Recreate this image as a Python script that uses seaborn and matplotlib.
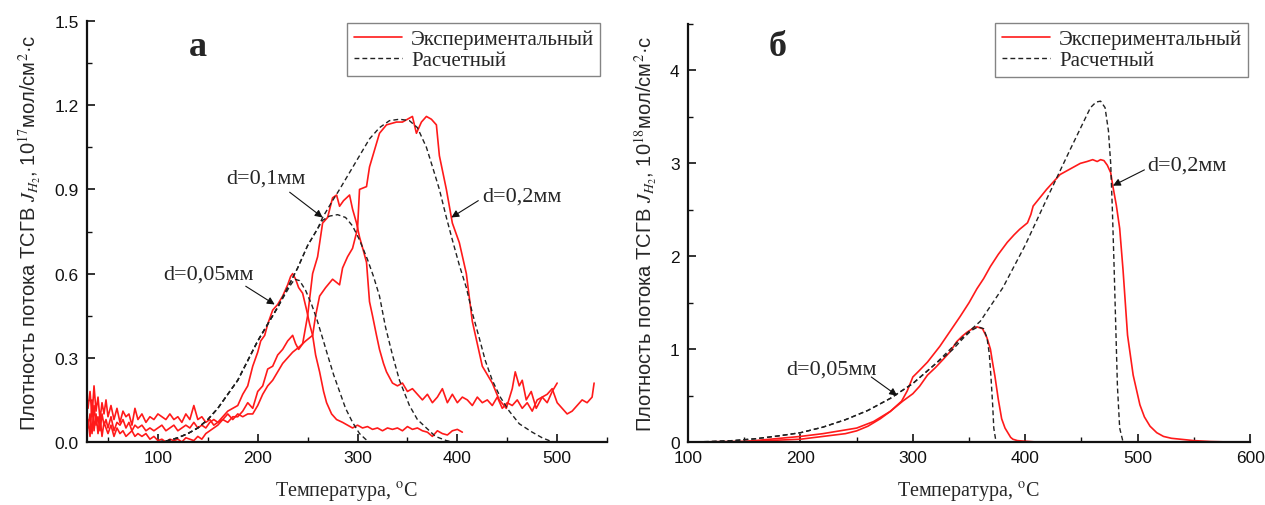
import numpy as np
import pandas as pd
import matplotlib
matplotlib.use("Agg")
import matplotlib.pyplot as plt
import seaborn as sns
from matplotlib.ticker import MultipleLocator
from matplotlib.lines import Line2D

# ---------------- data: panel a (10^17) ----------------
a_low_x = [30, 32, 34, 36, 38, 40, 42, 44, 46, 48, 50, 53, 56, 59, 62, 65, 68, 71, 74, 77,
           80, 84, 88, 92, 96, 100, 104, 108, 112, 116, 120, 124, 128, 132, 136, 140, 144,
           148, 152, 156, 160, 165, 170, 175, 180]

a_exp05_low = [0.12, 0.18, 0.09, 0.20, 0.11, 0.16, 0.08, 0.14, 0.10, 0.15, 0.09, 0.13, 0.08,
               0.12, 0.07, 0.11, 0.09, 0.10, 0.06, 0.12, 0.08, 0.10, 0.07, 0.09, 0.08, 0.10,
               0.09, 0.08, 0.10, 0.08, 0.09, 0.07, 0.10, 0.08, 0.13, 0.08, 0.09, 0.07, 0.08,
               0.06, 0.07, 0.09, 0.11, 0.12, 0.13]
a_exp05_hi_x = [185, 190, 195, 200, 203, 207, 210, 215, 220, 225, 230, 233, 235, 238, 241, 245,
                249, 252, 255, 258, 262, 266, 269, 274, 279, 285, 290, 295, 300, 305, 310, 315,
                320, 325, 330, 335, 340, 345, 350, 355, 360, 365, 370, 375, 380, 385, 390, 395,
                400, 405]
a_exp05_hi = [0.17, 0.20, 0.27, 0.32, 0.36, 0.38, 0.42, 0.47, 0.49, 0.52, 0.56, 0.59, 0.60, 0.58,
              0.55, 0.53, 0.47, 0.42, 0.38, 0.31, 0.25, 0.18, 0.14, 0.10, 0.08, 0.07, 0.06, 0.05,
              0.06, 0.05, 0.055, 0.045, 0.05, 0.04, 0.05, 0.045, 0.05, 0.04, 0.055, 0.045, 0.05,
              0.04, 0.035, 0.02, 0.04, 0.03, 0.025, 0.04, 0.045, 0.035]

a_exp10_low = [0.05, 0.10, 0.03, 0.13, 0.06, 0.09, 0.04, 0.10, 0.06, 0.08, 0.05, 0.09, 0.04,
               0.07, 0.06, 0.08, 0.05, 0.07, 0.04, 0.06, 0.05, 0.06, 0.04, 0.05, 0.04, 0.05,
               0.06, 0.04, 0.05, 0.06, 0.04, 0.05, 0.06, 0.05, 0.07, 0.05, 0.06, 0.05, 0.07,
               0.08, 0.07, 0.08, 0.07, 0.09, 0.09]
a_exp10_hi_x = [185, 190, 195, 200, 205, 210, 215, 220, 225, 230, 235, 238, 241, 245, 250, 255,
                260, 265, 270, 275, 279, 282, 286, 292, 295, 299, 302, 306, 309, 312, 315, 319,
                322, 326, 329, 335, 340, 345, 350, 355, 360, 365, 370, 375, 380, 385, 390, 395,
                400, 405, 410, 415, 420, 425, 430, 435, 440, 445, 450, 455, 460, 465, 470, 475,
                480, 485, 490, 495, 500]
a_exp10_hi = [0.11, 0.14, 0.12, 0.18, 0.20, 0.26, 0.27, 0.31, 0.33, 0.36, 0.38, 0.35, 0.33, 0.35,
              0.45, 0.60, 0.66, 0.78, 0.80, 0.87, 0.88, 0.84, 0.86, 0.88, 0.83, 0.78, 0.73, 0.68,
              0.64, 0.50, 0.45, 0.38, 0.33, 0.28, 0.25, 0.21, 0.20, 0.21, 0.18, 0.19, 0.17, 0.15,
              0.17, 0.14, 0.16, 0.19, 0.14, 0.17, 0.14, 0.16, 0.15, 0.13, 0.16, 0.14, 0.15, 0.13,
              0.16, 0.12, 0.14, 0.13, 0.15, 0.12, 0.14, 0.11, 0.15, 0.16, 0.14, 0.18, 0.21]

a_exp20_low = [0.08, 0.02, 0.15, 0.04, 0.10, 0.03, 0.09, 0.02, 0.07, 0.05, 0.03, 0.06, 0.02,
               0.05, 0.03, 0.04, 0.02, 0.03, 0.04, 0.02, 0.03, 0.02, 0.03, 0.01, 0.02, 0.005,
               0.01, 0.0, 0.01, 0.005, 0.01, 0.0, 0.015, 0.01, 0.005, 0.02, 0.01, 0.03, 0.04,
               0.05, 0.06, 0.08, 0.10, 0.08, 0.10]
a_exp20_hi_x = [185, 190, 195, 200, 205, 210, 215, 220, 225, 230, 235, 242, 248, 255, 258, 262,
                268, 275, 282, 285, 290, 295, 300, 302, 309, 312, 317, 322, 329, 339, 345, 350,
                355, 359, 364, 369, 374, 379, 382, 389, 395, 402, 409, 415, 420, 425, 430, 435,
                442, 449, 455, 458, 462, 465, 469, 474, 479, 485, 490, 495, 500, 505, 510, 515,
                520, 525, 530, 535, 537]
a_exp20_hi = [0.09, 0.10, 0.10, 0.13, 0.17, 0.20, 0.22, 0.25, 0.28, 0.30, 0.32, 0.34, 0.36, 0.38,
              0.45, 0.52, 0.55, 0.58, 0.56, 0.62, 0.66, 0.69, 0.76, 0.90, 0.91, 0.98, 1.04, 1.10,
              1.13, 1.14, 1.14, 1.15, 1.16, 1.10, 1.14, 1.16, 1.15, 1.13, 1.02, 0.90, 0.78, 0.71,
              0.60, 0.43, 0.35, 0.27, 0.24, 0.21, 0.15, 0.12, 0.19, 0.25, 0.20, 0.22, 0.15, 0.18,
              0.12, 0.16, 0.17, 0.19, 0.14, 0.12, 0.10, 0.11, 0.13, 0.15, 0.14, 0.16, 0.21]

a_calc05_x = [100, 110, 120, 130, 140, 150, 160, 170, 180, 190, 200, 210, 220, 228, 233, 237,
              242, 248, 254, 259, 265, 270, 276, 282, 288, 295, 302, 308, 312]
a_calc05 = [0.0, 0.005, 0.015, 0.03, 0.05, 0.08, 0.12, 0.17, 0.22, 0.29, 0.36, 0.42, 0.48, 0.53,
            0.56, 0.58, 0.575, 0.54, 0.49, 0.44, 0.37, 0.31, 0.24, 0.18, 0.12, 0.07, 0.03, 0.01, 0.0]
a_calc10_x = [100, 110, 120, 130, 140, 150, 160, 170, 180, 190, 200, 210, 220, 230, 240, 250,
              260, 265, 272, 280, 288, 295, 302, 310, 316, 322, 328, 335, 342, 352, 360, 369,
              378, 389, 395]
a_calc10 = [0.0, 0.005, 0.015, 0.03, 0.05, 0.08, 0.12, 0.17, 0.22, 0.29, 0.36, 0.42, 0.48, 0.55,
            0.62, 0.70, 0.76, 0.79, 0.805, 0.81, 0.80, 0.77, 0.72, 0.65, 0.59, 0.52, 0.41, 0.31,
            0.22, 0.13, 0.08, 0.05, 0.02, 0.005, 0.0]
a_calc20_x = [100, 110, 120, 130, 140, 150, 160, 170, 180, 190, 200, 210, 220, 230, 240, 250,
              260, 265, 275, 282, 292, 302, 312, 322, 332, 342, 352, 360, 369, 376, 382, 389,
              395, 402, 409, 415, 422, 428, 435, 443, 452, 462, 475, 485, 492, 497]
a_calc20 = [0.0, 0.005, 0.015, 0.03, 0.05, 0.08, 0.12, 0.17, 0.22, 0.29, 0.36, 0.42, 0.48, 0.55,
            0.62, 0.70, 0.76, 0.80, 0.86, 0.90, 0.96, 1.02, 1.08, 1.12, 1.145, 1.15, 1.145, 1.12,
            1.05, 0.97, 0.90, 0.80, 0.72, 0.63, 0.55, 0.46, 0.37, 0.29, 0.22, 0.16, 0.11, 0.065,
            0.035, 0.015, 0.005, 0.0]

# ---------------- data: panel б (10^18) ----------------
b_exp05_x = [100, 150, 200, 220, 240, 250, 260, 271, 280, 291, 300, 306, 313, 320, 327, 333, 339,
             344, 348, 353, 357, 362, 366, 369, 371, 373, 376, 379, 382, 384, 387, 389, 393, 398,
             410, 450]
b_exp05 = [0.0, 0.005, 0.03, 0.06, 0.09, 0.12, 0.17, 0.25, 0.33, 0.44, 0.52, 0.6, 0.72, 0.8, 0.89,
           0.97, 1.08, 1.14, 1.18, 1.22, 1.24, 1.22, 1.12, 1.0, 0.85, 0.71, 0.46, 0.25, 0.15, 0.11,
           0.05, 0.03, 0.015, 0.01, 0.0, 0.0]
b_exp20_x = [100, 150, 182, 200, 220, 250, 265, 280, 290, 295, 300, 305, 313, 324, 333, 342, 350,
             357, 363, 369, 376, 384, 390, 395, 402, 405, 407, 413, 419, 425, 431, 437, 443, 449,
             455, 460, 464, 467, 470, 473, 476, 478, 481, 484, 487, 491, 496, 502, 506, 511, 517,
             523, 530, 538, 550, 565, 582]
b_exp20 = [0.0, 0.005, 0.04, 0.06, 0.09, 0.15, 0.22, 0.33, 0.44, 0.55, 0.7, 0.76, 0.86, 1.03, 1.19,
           1.35, 1.5, 1.65, 1.76, 1.89, 2.02, 2.15, 2.23, 2.29, 2.36, 2.45, 2.54, 2.63, 2.72, 2.8,
           2.88, 2.92, 2.96, 3.0, 3.02, 3.04, 3.02, 3.04, 3.03, 2.98, 2.9, 2.75, 2.55, 2.3, 1.85,
           1.15, 0.72, 0.4, 0.27, 0.17, 0.1, 0.06, 0.04, 0.03, 0.015, 0.005, 0.0]
b_calc05_x = [100, 120, 140, 160, 180, 200, 220, 240, 260, 280, 300, 320, 335, 345, 352, 358, 363,
              366, 368, 369.5, 371, 372, 374]
b_calc05 = [0.0, 0.005, 0.015, 0.035, 0.065, 0.1, 0.16, 0.24, 0.34, 0.47, 0.63, 0.84, 0.99, 1.12,
            1.2, 1.24, 1.22, 1.12, 0.95, 0.7, 0.4, 0.15, 0.0]
b_calc20_x = [100, 120, 140, 160, 180, 200, 220, 240, 260, 280, 300, 320, 340, 360, 380, 400, 420,
              440, 450, 458, 463, 467, 471, 474, 476, 477.5, 479, 480.5, 482, 484, 487]
b_calc20 = [0.0, 0.005, 0.015, 0.035, 0.065, 0.1, 0.16, 0.24, 0.34, 0.47, 0.63, 0.84, 1.08, 1.3,
            1.66, 2.12, 2.64, 3.15, 3.4, 3.6, 3.66, 3.67, 3.6, 3.35, 3.0, 2.5, 1.9, 1.25, 0.6, 0.15,
            0.0]

legend_labels = ["Экспериментальный", "Расчетный"]
xlabel = "Температура, $^{\\rm o}$C"
ylabel_a = "Плотность потока ТСГВ $J_{H_2}$, 10$^{17}$мол/см$^2$·с"
ylabel_b = "Плотность потока ТСГВ $J_{H_2}$, 10$^{18}$мол/см$^2$·с"

# ---------------- build tables ----------------
def frame(x, y, name):
    return pd.DataFrame({"T": x, "J": y, "series": name})

a_exp = [frame(a_low_x + a_exp05_hi_x, a_exp05_low + a_exp05_hi, "e05"),
         frame(a_low_x + a_exp10_hi_x, a_exp10_low + a_exp10_hi, "e10"),
         frame(a_low_x + a_exp20_hi_x, a_exp20_low + a_exp20_hi, "e20")]
a_calc = [frame(a_calc05_x, a_calc05, "c05"), frame(a_calc10_x, a_calc10, "c10"),
          frame(a_calc20_x, a_calc20, "c20")]
b_exp = [frame(b_exp05_x, b_exp05, "e05"), frame(b_exp20_x, b_exp20, "e20")]
b_calc = [frame(b_calc05_x, b_calc05, "c05"), frame(b_calc20_x, b_calc20, "c20")]

# ---------------- style ----------------
sns.set_theme(style="ticks")
plt.rcParams["font.family"] = ["Liberation Sans", "DejaVu Sans"]
plt.rcParams["mathtext.fontset"] = "stix"
SERIF = ["Liberation Serif", "DejaVu Serif"]
RED = "#ff1a1a"
DASH = (0, (3.5, 2.2))

fig = plt.figure(figsize=(12.65, 5.06), dpi=100)
fig.patch.set_facecolor("white")
axA = fig.add_axes([0.0688, 0.1245, 0.4111, 0.832])
axB = fig.add_axes([0.5439, 0.1245, 0.4443, 0.826])

def draw(ax, exps, calcs):
    for d in exps:
        sns.lineplot(data=d, x="T", y="J", ax=ax, color=RED, lw=1.2, sort=False,
                     estimator=None, legend=False)
    for d in calcs:
        sns.lineplot(data=d, x="T", y="J", ax=ax, color="#222222", lw=1.0, sort=False,
                     estimator=None, legend=False, linestyle=DASH)

draw(axA, a_exp, a_calc)
draw(axB, b_exp, b_calc)

def style_axes(ax, xlim, ylim, xmaj, xmin, ymaj, ymin, ylabel, yfmt):
    ax.set_xlim(*xlim)
    ax.set_ylim(*ylim)
    ax.xaxis.set_major_locator(MultipleLocator(xmaj))
    ax.xaxis.set_minor_locator(MultipleLocator(xmin))
    ax.yaxis.set_major_locator(MultipleLocator(ymaj))
    ax.yaxis.set_minor_locator(MultipleLocator(ymin))
    ax.yaxis.set_major_formatter(yfmt)
    for s in ["top", "right"]:
        ax.spines[s].set_visible(False)
    for s in ["left", "bottom"]:
        ax.spines[s].set_linewidth(1.6)
        ax.spines[s].set_color("#111111")
    ax.tick_params(which="major", direction="in", length=6, width=1.2, labelsize=12.5,
                   colors="#111111", pad=6)
    ax.tick_params(which="minor", direction="in", length=3.5, width=1.0, colors="#111111")
    ax.set_xlabel(xlabel, fontfamily=SERIF, fontsize=14.5, labelpad=10)
    ax.set_ylabel(ylabel, fontsize=14.5, labelpad=8)
    ax.set_facecolor("white")
    handles = [Line2D([], [], color=RED, lw=1.2),
               Line2D([], [], color="#222222", lw=1.0, linestyle=DASH)]
    return handles

hA = style_axes(axA, (29, 550), (0, 1.5), 100, 50, 0.3, 0.15, ylabel_a, "{x:.1f}")
hB = style_axes(axB, (100, 600), (0, 4.5), 100, 50, 1, 0.5, ylabel_b, "{x:.0f}")

for ax, h, anchor in [(axA, hA, (0.987, 0.995)), (axB, hB, (0.997, 1.002))]:
    leg = ax.legend(h, legend_labels, loc="upper right", bbox_to_anchor=anchor,
                    borderaxespad=0, frameon=True, fancybox=False, handlelength=2.3,
                    handletextpad=0.45, borderpad=0.3, labelspacing=0.08,
                    prop={"family": SERIF, "size": 15})
    leg.get_frame().set_edgecolor("#666666")
    leg.get_frame().set_linewidth(1.0)

# panel letters
axA.text(140, 1.41, "а", fontfamily=SERIF, fontweight="bold", fontsize=26, ha="center", va="center")
axB.text(180, 4.26, "б", fontfamily=SERIF, fontweight="bold", fontsize=26, ha="center", va="center")

# annotations
def note(ax, text, tpos, start, tip):
    ax.text(tpos[0], tpos[1], text, fontfamily=SERIF, fontsize=16, ha="center", va="center")
    ax.annotate("", xy=tip, xytext=start,
                arrowprops=dict(arrowstyle="-|>", color="#111111", lw=0.8, mutation_scale=11,
                                shrinkA=0, shrinkB=0))

note(axA, "d=0,05мм", (151, 0.6), (188, 0.555), (217, 0.49))
note(axA, "d=0,1мм", (208, 0.94), (232, 0.89), (265, 0.80))
note(axA, "d=0,2мм", (465, 0.875), (421, 0.86), (394, 0.80))
note(axB, "d=0,05мм", (228, 0.79), (263, 0.70), (286, 0.5))
note(axB, "d=0,2мм", (544, 2.98), (506, 2.93), (478, 2.76))

fig.savefig("out.png", dpi=100, facecolor="white")
